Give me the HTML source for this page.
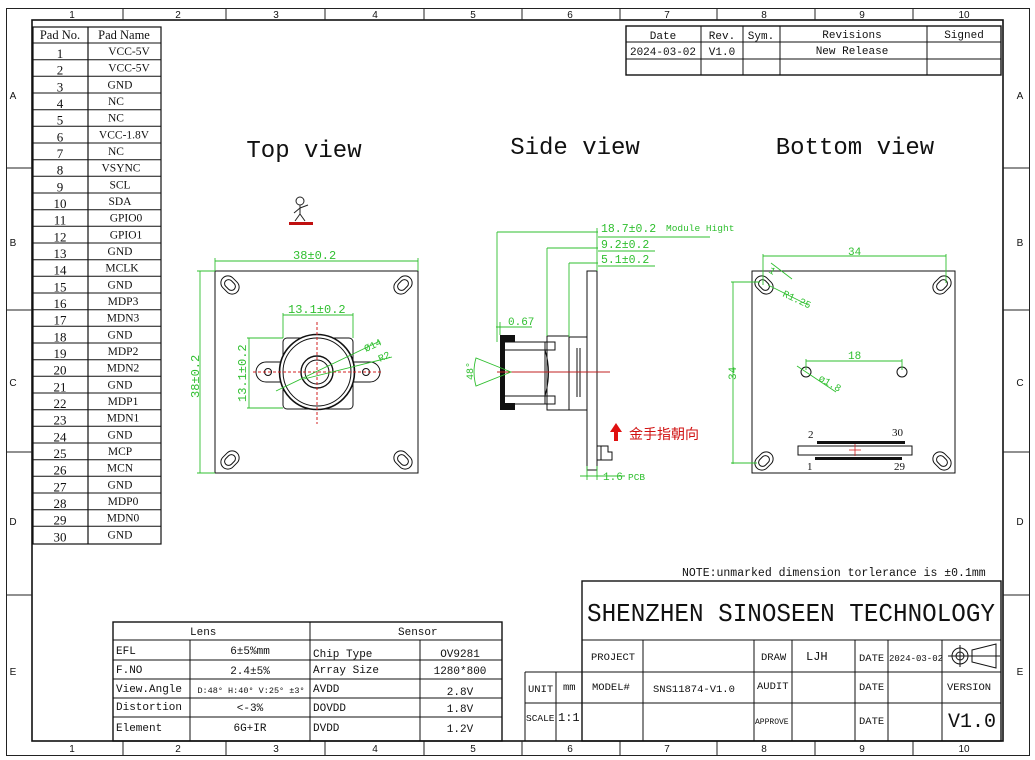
<!DOCTYPE html>
<html><head><meta charset="utf-8"><style>
html,body{margin:0;padding:0;background:#fff;}
svg{display:block;}
text{font-family:"Liberation Serif","Noto Serif CJK SC",serif;fill:#111;}
.m,.m text{font-family:"Liberation Mono","Noto Sans CJK SC",monospace;}
.s,.s text{font-family:"Liberation Sans",sans-serif;}
.g,.g text{fill:#2fbf2f;}
</style></head><body>
<svg width="1035" height="760" viewBox="0 0 1035 760" xmlns="http://www.w3.org/2000/svg">
<rect width="1035" height="760" fill="#fff"/>
<!-- frames -->
<rect x="6.5" y="8.5" width="1023" height="747" fill="none" stroke="#222" stroke-width="1"/>
<rect x="32" y="20" width="971" height="721" fill="none" stroke="#111" stroke-width="1.6"/>
<g stroke="#222" stroke-width="1">
<line x1="123" y1="8" x2="123" y2="20"/><line x1="226" y1="8" x2="226" y2="20"/><line x1="325" y1="8" x2="325" y2="20"/><line x1="424" y1="8" x2="424" y2="20"/><line x1="522" y1="8" x2="522" y2="20"/><line x1="620" y1="8" x2="620" y2="20"/><line x1="717" y1="8" x2="717" y2="20"/><line x1="815" y1="8" x2="815" y2="20"/><line x1="913" y1="8" x2="913" y2="20"/>
<line x1="123" y1="741" x2="123" y2="755"/><line x1="226" y1="741" x2="226" y2="755"/><line x1="325" y1="741" x2="325" y2="755"/><line x1="424" y1="741" x2="424" y2="755"/><line x1="522" y1="741" x2="522" y2="755"/><line x1="620" y1="741" x2="620" y2="755"/><line x1="717" y1="741" x2="717" y2="755"/><line x1="815" y1="741" x2="815" y2="755"/><line x1="913" y1="741" x2="913" y2="755"/>
<line x1="6" y1="168" x2="32" y2="168"/><line x1="6" y1="310" x2="32" y2="310"/><line x1="6" y1="452" x2="32" y2="452"/><line x1="6" y1="595" x2="32" y2="595"/>
<line x1="1003" y1="168" x2="1030" y2="168"/><line x1="1003" y1="310" x2="1030" y2="310"/><line x1="1003" y1="452" x2="1030" y2="452"/><line x1="1003" y1="595" x2="1030" y2="595"/>
</g>
<g class="s" font-size="10" text-anchor="middle">
<text x="72" y="18">1</text><text x="178" y="18">2</text><text x="276" y="18">3</text><text x="375" y="18">4</text><text x="473" y="18">5</text><text x="570" y="18">6</text><text x="667" y="18">7</text><text x="764" y="18">8</text><text x="862" y="18">9</text><text x="964" y="18">10</text>
<text x="72" y="752">1</text><text x="178" y="752">2</text><text x="276" y="752">3</text><text x="375" y="752">4</text><text x="473" y="752">5</text><text x="570" y="752">6</text><text x="667" y="752">7</text><text x="764" y="752">8</text><text x="862" y="752">9</text><text x="964" y="752">10</text>
<text x="13" y="99">A</text><text x="13" y="246">B</text><text x="13" y="386">C</text><text x="13" y="525">D</text><text x="13" y="675">E</text>
<text x="1020" y="99">A</text><text x="1020" y="246">B</text><text x="1020" y="386">C</text><text x="1020" y="525">D</text><text x="1020" y="675">E</text>
</g>

<!-- pad table -->
<g stroke="#111" stroke-width="1.2" fill="none">
<rect x="33" y="27" width="128" height="517"/>
<line x1="88" y1="27" x2="88" y2="544"/>
</g>
<g stroke="#111" stroke-width="1">
<line x1="33" y1="43" x2="161" y2="43"/><line x1="33" y1="59.7" x2="161" y2="59.7"/><line x1="33" y1="76.3" x2="161" y2="76.3"/><line x1="33" y1="93" x2="161" y2="93"/><line x1="33" y1="109.7" x2="161" y2="109.7"/><line x1="33" y1="126.3" x2="161" y2="126.3"/><line x1="33" y1="143" x2="161" y2="143"/><line x1="33" y1="159.7" x2="161" y2="159.7"/><line x1="33" y1="176.3" x2="161" y2="176.3"/><line x1="33" y1="193" x2="161" y2="193"/><line x1="33" y1="209.7" x2="161" y2="209.7"/><line x1="33" y1="226.3" x2="161" y2="226.3"/><line x1="33" y1="243" x2="161" y2="243"/><line x1="33" y1="259.7" x2="161" y2="259.7"/><line x1="33" y1="276.3" x2="161" y2="276.3"/><line x1="33" y1="293" x2="161" y2="293"/><line x1="33" y1="309.7" x2="161" y2="309.7"/><line x1="33" y1="326.3" x2="161" y2="326.3"/><line x1="33" y1="343" x2="161" y2="343"/><line x1="33" y1="359.7" x2="161" y2="359.7"/><line x1="33" y1="376.3" x2="161" y2="376.3"/><line x1="33" y1="393" x2="161" y2="393"/><line x1="33" y1="409.7" x2="161" y2="409.7"/><line x1="33" y1="426.3" x2="161" y2="426.3"/><line x1="33" y1="443" x2="161" y2="443"/><line x1="33" y1="459.7" x2="161" y2="459.7"/><line x1="33" y1="476.3" x2="161" y2="476.3"/><line x1="33" y1="493" x2="161" y2="493"/><line x1="33" y1="509.7" x2="161" y2="509.7"/><line x1="33" y1="526.3" x2="161" y2="526.3"/>
</g>
<g font-size="12.5" text-anchor="middle">
<text x="60" y="39">Pad No.</text><text x="124" y="39">Pad Name</text>
</g>
<g font-size="13" text-anchor="middle">
<text x="60" y="58">1</text><text x="60" y="74.7">2</text><text x="60" y="91.3">3</text><text x="60" y="108">4</text><text x="60" y="124.7">5</text><text x="60" y="141.3">6</text><text x="60" y="158">7</text><text x="60" y="174.7">8</text><text x="60" y="191.3">9</text><text x="60" y="208">10</text><text x="60" y="224.7">11</text><text x="60" y="241.3">12</text><text x="60" y="258">13</text><text x="60" y="274.7">14</text><text x="60" y="291.3">15</text><text x="60" y="308">16</text><text x="60" y="324.7">17</text><text x="60" y="341.3">18</text><text x="60" y="358">19</text><text x="60" y="374.7">20</text><text x="60" y="391.3">21</text><text x="60" y="408">22</text><text x="60" y="424.7">23</text><text x="60" y="441.3">24</text><text x="60" y="458">25</text><text x="60" y="474.7">26</text><text x="60" y="491.3">27</text><text x="60" y="508">28</text><text x="60" y="524.7">29</text><text x="60" y="541.3">30</text>
</g>
<g font-size="11.5" text-anchor="middle">
<text x="129" y="55">VCC-5V</text><text x="129" y="71.7">VCC-5V</text><text x="120" y="88.3">GND</text><text x="116" y="105">NC</text><text x="116" y="121.7">NC</text><text x="124" y="138.3">VCC-1.8V</text><text x="116" y="155">NC</text><text x="121" y="171.7">VSYNC</text><text x="120" y="188.3">SCL</text><text x="120" y="205">SDA</text><text x="126" y="221.7">GPIO0</text><text x="126" y="238.3">GPIO1</text><text x="120" y="255">GND</text><text x="122" y="271.7">MCLK</text><text x="120" y="288.3">GND</text><text x="123" y="305">MDP3</text><text x="123" y="321.7">MDN3</text><text x="120" y="338.3">GND</text><text x="123" y="355">MDP2</text><text x="123" y="371.7">MDN2</text><text x="120" y="388.3">GND</text><text x="123" y="405">MDP1</text><text x="123" y="421.7">MDN1</text><text x="120" y="438.3">GND</text><text x="120" y="455">MCP</text><text x="120" y="471.7">MCN</text><text x="120" y="488.3">GND</text><text x="123" y="505">MDP0</text><text x="123" y="521.7">MDN0</text><text x="120" y="538.3">GND</text>
</g>

<!-- revisions table -->
<g stroke="#111" stroke-width="1" fill="none">
<rect x="626" y="26" width="375" height="49" stroke-width="1.4"/>
<line x1="626" y1="42" x2="1001" y2="42"/><line x1="626" y1="59" x2="1001" y2="59"/>
<line x1="701" y1="26" x2="701" y2="75"/><line x1="743" y1="26" x2="743" y2="75"/><line x1="780" y1="26" x2="780" y2="75"/><line x1="927" y1="26" x2="927" y2="75"/>
</g>
<g class="m" font-size="11" text-anchor="middle">
<text x="663" y="39">Date</text><text x="722" y="39">Rev.</text><text x="761" y="39">Sym.</text><text x="852" y="38">Revisions</text><text x="964" y="38">Signed</text>
<text x="663" y="55">2024-03-02</text><text x="722" y="55">V1.0</text><text x="852" y="54">New Release</text>
</g>

<!-- view titles -->
<g class="m" font-size="24" text-anchor="middle">
<text x="304" y="157">Top view</text><text x="575" y="154">Side view</text><text x="855" y="154">Bottom view</text>
</g>

<!-- stick figure -->
<g stroke="#222" stroke-width="1" fill="none">
<circle cx="300" cy="201" r="4"/><line x1="300" y1="205" x2="300" y2="214"/><line x1="300" y1="214" x2="295" y2="221"/><line x1="300" y1="214" x2="305" y2="221"/><line x1="300" y1="208" x2="294" y2="213"/><line x1="300" y1="208" x2="308" y2="205"/>
</g>
<rect x="289" y="222" width="24" height="3" fill="#c01010"/>

<!-- TOP VIEW -->
<g stroke="#111" stroke-width="1" fill="none">
<rect x="215" y="271" width="203" height="202"/>
<g transform="translate(230,285) rotate(45)"><rect x="-10" y="-7" width="20" height="14" rx="7"/><rect x="-6" y="-4" width="12" height="8" rx="4"/></g>
<g transform="translate(403,285) rotate(-45)"><rect x="-10" y="-7" width="20" height="14" rx="7"/><rect x="-6" y="-4" width="12" height="8" rx="4"/></g>
<g transform="translate(230,460) rotate(-45)"><rect x="-10" y="-7" width="20" height="14" rx="7"/><rect x="-6" y="-4" width="12" height="8" rx="4"/></g>
<g transform="translate(403,460) rotate(45)"><rect x="-10" y="-7" width="20" height="14" rx="7"/><rect x="-6" y="-4" width="12" height="8" rx="4"/></g>
<rect x="283" y="338" width="70" height="71" rx="4"/>
<path d="M283,362 H266 a8,8 0 0 0 0,20 H283"/>
<path d="M353,362 H370 a8,8 0 0 1 0,20 H353"/>
<circle cx="268" cy="372" r="3.5"/><circle cx="366" cy="372" r="3.5"/>
<circle cx="317" cy="372" r="37.5" fill="#fff" stroke-width="1.6"/>
<circle cx="317" cy="372" r="34"/>
<circle cx="317" cy="372" r="16" stroke-width="1.4"/>
<circle cx="317" cy="372" r="12"/>
</g>
<g stroke="#d02020" stroke-width="1" stroke-dasharray="3,2">
<line x1="317" y1="322" x2="317" y2="424"/><line x1="253" y1="372" x2="381" y2="372"/>
</g>
<g stroke="#2fbf2f" stroke-width="0.9" fill="none">
<line x1="215" y1="261" x2="418" y2="261"/><line x1="215" y1="258" x2="215" y2="271"/><line x1="418" y1="258" x2="418" y2="271"/>
<line x1="200" y1="271" x2="200" y2="473"/><line x1="197" y1="271" x2="215" y2="271"/><line x1="197" y1="473" x2="215" y2="473"/>
<line x1="283" y1="315" x2="353" y2="315"/><line x1="283" y1="313" x2="283" y2="338"/><line x1="353" y1="313" x2="353" y2="338"/>
<line x1="249" y1="338" x2="249" y2="408"/><line x1="247" y1="338" x2="283" y2="338"/><line x1="247" y1="408" x2="283" y2="408"/>
<line x1="276" y1="391" x2="380" y2="341"/><line x1="304" y1="379" x2="392" y2="357"/>
</g>
<g class="m g" font-size="12">
<text x="293" y="259">38±0.2</text>
<text x="288" y="313">13.1±0.2</text>
<text transform="translate(199,398) rotate(-90)">38±0.2</text>
<text transform="translate(246,402) rotate(-90)">13.1±0.2</text>
<text transform="translate(366,352) rotate(-25)" font-size="10">Ø14</text>
<text transform="translate(380,362) rotate(-25)" font-size="10">R2</text>
</g>

<!-- SIDE VIEW -->
<g stroke="#111" stroke-width="1" fill="none">
<rect x="587" y="271" width="10" height="199"/>
<rect x="569" y="337" width="18" height="73"/>
<rect x="547" y="336" width="22" height="74"/>
<rect x="503" y="342" width="52" height="8"/><rect x="503" y="396" width="52" height="8"/>
<path d="M510,350 L545,350 Q552,372 545,396 L510,396"/>
<line x1="545" y1="342" x2="545" y2="404"/>
<line x1="577" y1="348" x2="577" y2="397"/><line x1="580" y1="348" x2="580" y2="397"/>
<path d="M597,446 H608 V452 H612 V460 H597"/>
<line x1="601" y1="446" x2="601" y2="460"/>
</g>
<path d="M500,335 H515 V342 H505 V403 H515 V410 H500 Z" fill="#111"/>
<line x1="497" y1="372" x2="610" y2="372" stroke="#c02020" stroke-width="1"/>
<g stroke="#2fbf2f" stroke-width="0.9" fill="none">
<path d="M511,372 L476,358 Q472,372 476,386 Z"/>
<line x1="497" y1="232" x2="497" y2="342"/><line x1="497" y1="232" x2="598" y2="232"/>
<line x1="547" y1="248" x2="547" y2="336"/><line x1="547" y1="248" x2="598" y2="248"/>
<line x1="569" y1="263" x2="569" y2="337"/><line x1="569" y1="263" x2="598" y2="263"/>
<line x1="597" y1="228" x2="597" y2="271"/>
<line x1="598" y1="237" x2="710" y2="237"/><line x1="598" y1="251" x2="655" y2="251"/><line x1="598" y1="266" x2="655" y2="266"/>
<line x1="496" y1="327" x2="532" y2="327"/><line x1="500" y1="322" x2="500" y2="335"/>
<line x1="580" y1="476" x2="625" y2="476"/><line x1="587" y1="466" x2="587" y2="480"/><line x1="597" y1="466" x2="597" y2="480"/>
</g>
<g class="m g" font-size="11.5">
<text x="601" y="232">18.7±0.2</text><text x="666" y="231" font-size="9.5">Module Hight</text>
<text x="601" y="248">9.2±0.2</text>
<text x="601" y="263">5.1±0.2</text>
<text x="508" y="325" font-size="11">0.67</text>
<text x="603" y="480" font-size="11">1.6</text><text x="628" y="480" font-size="9.5">PCB</text>
<text transform="translate(473,380) rotate(-90)" font-size="10">48°</text>
</g>
<path d="M616,423 L610,432 H614 V441 H618 V432 H622 Z" fill="#e01010"/>
<text x="629" y="439" font-size="14" style="fill:#d01010;font-family:'Noto Sans CJK SC',sans-serif">金手指朝向</text>

<!-- BOTTOM VIEW -->
<g stroke="#111" stroke-width="1" fill="none">
<rect x="752" y="271" width="203" height="202"/>
<g transform="translate(764,285) rotate(45)"><rect x="-10" y="-7" width="20" height="14" rx="7"/><rect x="-6" y="-4" width="12" height="8" rx="4"/></g>
<g transform="translate(942,285) rotate(-45)"><rect x="-10" y="-7" width="20" height="14" rx="7"/><rect x="-6" y="-4" width="12" height="8" rx="4"/></g>
<g transform="translate(764,461) rotate(-45)"><rect x="-10" y="-7" width="20" height="14" rx="7"/><rect x="-6" y="-4" width="12" height="8" rx="4"/></g>
<g transform="translate(942,461) rotate(45)"><rect x="-10" y="-7" width="20" height="14" rx="7"/><rect x="-6" y="-4" width="12" height="8" rx="4"/></g>
<circle cx="806" cy="372" r="5"/><circle cx="902" cy="372" r="5"/>
<rect x="798" y="446" width="114" height="9"/>
</g>
<g fill="#111">
<rect x="817" y="441" width="88" height="3"/><rect x="815" y="457" width="87" height="3"/>
</g>
<g stroke="#d02020" stroke-width="0.8"><line x1="855" y1="444" x2="855" y2="456"/><line x1="849" y1="450" x2="861" y2="450"/></g>
<g stroke="#2fbf2f" stroke-width="0.9" fill="none">
<line x1="763" y1="256" x2="946" y2="256"/><line x1="763" y1="254" x2="763" y2="285"/><line x1="946" y1="254" x2="946" y2="283"/>
<line x1="733" y1="282" x2="733" y2="464"/><line x1="731" y1="282" x2="760" y2="282"/><line x1="731" y1="463" x2="757" y2="463"/>
<line x1="806" y1="361" x2="902" y2="361"/><line x1="806" y1="359" x2="806" y2="370"/><line x1="902" y1="359" x2="902" y2="370"/>
<line x1="797" y1="366" x2="836" y2="392"/>
<line x1="771" y1="263" x2="792" y2="279"/><line x1="768" y1="285" x2="808" y2="305"/>
</g>
<g class="m g" font-size="11">
<text x="848" y="255">34</text><text x="848" y="359">18</text>
<text transform="translate(736,380) rotate(-90)">34</text>
<text transform="translate(818,380) rotate(30)" font-size="10">ø1.8</text>
<text transform="translate(782,296) rotate(25)" font-size="10">R1.25</text>
<text transform="translate(768,272) rotate(30)" font-size="10">1</text>
</g>
<g font-size="11">
<text x="808" y="438">2</text><text x="892" y="436">30</text><text x="807" y="470">1</text><text x="894" y="470">29</text>
</g>

<!-- note -->
<text x="682" y="576" class="m" font-size="11.5">NOTE:unmarked dimension torlerance is ±0.1mm</text>

<!-- lens/sensor table -->
<g stroke="#111" stroke-width="1" fill="none">
<rect x="113" y="622" width="389" height="119" stroke-width="1.4"/>
<line x1="113" y1="640" x2="502" y2="640"/><line x1="113" y1="660" x2="502" y2="660"/><line x1="113" y1="679" x2="502" y2="679"/><line x1="113" y1="698" x2="502" y2="698"/><line x1="113" y1="717" x2="502" y2="717"/>
<line x1="310" y1="622" x2="310" y2="741"/><line x1="190" y1="640" x2="190" y2="741"/><line x1="420" y1="640" x2="420" y2="741"/>
</g>
<g class="m" font-size="11">
<text x="190" y="635">Lens</text><text x="398" y="635">Sensor</text>
<text x="116" y="654">EFL</text><text x="116" y="673">F.NO</text><text x="116" y="692">View.Angle</text><text x="116" y="710">Distortion</text><text x="116" y="731">Element</text>
<text x="313" y="657">Chip Type</text><text x="313" y="673">Array Size</text><text x="313" y="692">AVDD</text><text x="313" y="711">DOVDD</text><text x="313" y="731">DVDD</text>
</g>
<g class="m" font-size="11" text-anchor="middle">
<text x="250" y="654">6±5%mm</text><text x="250" y="674">2.4±5%</text><text x="251" y="693" font-size="8.5">D:48° H:40° V:25° ±3°</text><text x="250" y="711">&lt;-3%</text><text x="250" y="731">6G+IR</text>
<text x="460" y="657">OV9281</text><text x="460" y="674">1280*800</text><text x="460" y="695">2.8V</text><text x="460" y="712">1.8V</text><text x="460" y="732">1.2V</text>
</g>

<!-- title block -->
<g stroke="#111" stroke-width="1" fill="none">
<rect x="582" y="581" width="419" height="160" stroke-width="1.4"/>
<line x1="582" y1="640" x2="1001" y2="640"/><line x1="525" y1="672" x2="1001" y2="672"/><line x1="525" y1="703" x2="1001" y2="703"/>
<line x1="525" y1="672" x2="525" y2="741"/><line x1="525" y1="741" x2="582" y2="741"/><line x1="556" y1="672" x2="556" y2="741"/>
<line x1="643" y1="640" x2="643" y2="741"/><line x1="754" y1="640" x2="754" y2="741"/><line x1="792" y1="640" x2="792" y2="741"/><line x1="855" y1="640" x2="855" y2="741"/><line x1="888" y1="640" x2="888" y2="741"/><line x1="942" y1="640" x2="942" y2="741"/>
<circle cx="960" cy="656" r="8"/><circle cx="960" cy="656" r="4"/>
<path d="M972,650 L996,644 V668 L972,662 Z"/>
<line x1="948" y1="656" x2="1000" y2="656"/><line x1="960" y1="645" x2="960" y2="667"/>
</g>
<text x="587" y="621" class="m" font-size="26" textLength="408" lengthAdjust="spacingAndGlyphs">SHENZHEN SINOSEEN TECHNOLOGY</text>
<g class="m" font-size="10.5">
<text x="591" y="660">PROJECT</text><text x="761" y="660">DRAW</text><text x="806" y="660" font-size="12">LJH</text><text x="859" y="661">DATE</text><text x="889" y="661" font-size="9">2024-03-02</text>
<text x="528" y="692">UNIT</text><text x="563" y="690">mm</text><text x="592" y="690">MODEL#</text><text x="653" y="692">SNS11874-V1.0</text><text x="757" y="689">AUDIT</text><text x="859" y="690">DATE</text><text x="947" y="690">VERSION</text>
<text x="526" y="721" font-size="9.5">SCALE</text><text x="558" y="721" font-size="12">1:1</text><text x="755" y="724" font-size="8">APPROVE</text><text x="859" y="724">DATE</text>
</g>
<text x="948" y="727" class="m" font-size="20">V1.0</text>
</svg>
</body></html>
